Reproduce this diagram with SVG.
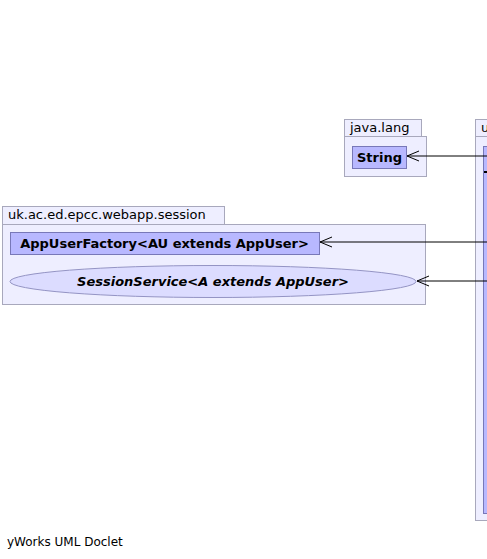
<svg xmlns="http://www.w3.org/2000/svg" width="487" height="559" viewBox="0 0 487 559">
<defs>
<style>
.pkg{fill:#eeeeff;stroke:#a8a8bc;stroke-width:1}
.cls{fill:#b8b8ff;stroke:#7878b8;stroke-width:1}
.ell{fill:#dcdcff;stroke:#9494c4;stroke-width:1}
.pl{font-family:"DejaVu Sans",sans-serif;font-size:13px;fill:#000}
.ft{font-family:"DejaVu Sans",sans-serif;font-size:12px;fill:#000}
.cl{font-family:"DejaVu Sans",sans-serif;font-size:13px;font-weight:bold;fill:#000;text-anchor:middle}
.it{font-style:italic}
.edge{stroke:#000;stroke-width:1;fill:none}
</style>
<marker id="open" markerWidth="14" markerHeight="12" refX="13" refY="6" orient="auto" markerUnits="userSpaceOnUse">
<path d="M1,1 L13,6 L1,11" fill="none" stroke="#000" stroke-width="1"/>
</marker>
</defs>
<rect width="487" height="559" fill="#fff"/>
<g id="pkg-java-lang">
<rect class="pkg" x="344.5" y="119.5" width="77" height="17"/>
<rect class="pkg" x="344.5" y="136.5" width="82" height="40"/>
<text class="pl" x="350" y="132">java.lang</text>
</g>
<g id="String">
<rect class="cls" x="352.5" y="146.5" width="54" height="22"/>
<text class="cl" x="379.5" y="162">String</text>
</g>
<g id="pkg-session">
<rect class="pkg" x="2.5" y="206.5" width="222" height="18"/>
<rect class="pkg" x="2.5" y="224.5" width="423" height="80"/>
<text class="pl" x="8" y="219">uk.ac.ed.epcc.webapp.session</text>
</g>
<g id="AppUserFactory">
<rect class="cls" x="10.5" y="232.5" width="309" height="22"/>
<text class="cl" x="164.5" y="248">AppUserFactory&lt;AU extends AppUser&gt;</text>
</g>
<g id="SessionService">
<ellipse class="ell" cx="213" cy="281.5" rx="203" ry="16"/>
<text class="cl it" x="213" y="286">SessionService&lt;A extends AppUser&gt;</text>
</g>
<g id="pkg-right">
<rect class="pkg" x="475.5" y="119.5" width="20" height="17"/>
<rect class="pkg" x="475.5" y="136.5" width="20" height="384"/>
<text class="pl" x="481" y="132">u</text>
<rect class="cls" x="483.5" y="146.5" width="10" height="367"/>
<line x1="484" y1="172" x2="487" y2="172" stroke="#000" stroke-width="2"/>
</g>
<g id="connectors">
<line class="edge" x1="487" y1="156" x2="407" y2="156" marker-end="url(#open)"/>
<line class="edge" x1="487" y1="242" x2="320" y2="242" marker-end="url(#open)"/>
<line class="edge" x1="487" y1="281" x2="417" y2="281" marker-end="url(#open)"/>
</g>
<text class="ft" x="7" y="546">yWorks UML Doclet</text>
</svg>
